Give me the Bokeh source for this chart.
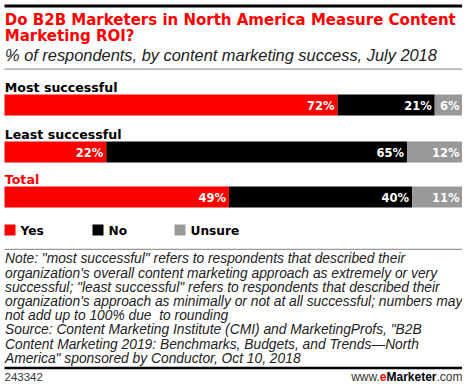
from bokeh.plotting import figure
from bokeh.models import Range1d, ColumnDataSource
from bokeh.core.properties import value
from bokeh.embed import file_html
from bokeh.resources import INLINE

# ---------------- data ----------------
categories = ["Most successful", "Least successful", "Total"]
yes = [72, 22, 49]
no = [21, 65, 40]
unsure = [6, 12, 11]
series_names = ["Yes", "No", "Unsure"]
series_colors = ["#ff0000", "#000000", "#999999"]
category_colors = ["#000000", "#000000", "#ff0000"]

title_lines = ["Do B2B Marketers in North America Measure Content",
               "Marketing ROI?"]
subtitle = "% of respondents, by content marketing success, July 2018"
note_lines = [
    'Note: "most successful" refers to respondents that described their',
    "organization's overall content marketing approach as extremely or very",
    'successful; "least successful" refers to respondents that described their',
    "organization's approach as minimally or not at all successful; numbers may",
    "not add up to 100% due\u00a0 to rounding",
    'Source: Content Marketing Institute (CMI) and MarketingProfs, "B2B',
    "Content Marketing 2019: Benchmarks, Budgets, and Trends\u2014North",
    'America" sponsored by Conductor, Oct 10, 2018',
]
chart_id = "243342"

# ---------------- layout (pixel units of the 470x391 picture) ----------------
W, H = 462, 383
VX0, VY0 = 2, 2          # picture coordinate shown at the canvas' top-left
X0, X1 = 6, 464          # left/right of content
row_label_base = [93.0, 140.4, 185.0]
bar_top = [96, 143, 188]
bar_h = 21
legend_x = [6, 94, 176]
legend_top, legend_size = 226, 11
note_base0, note_step = 265.2, 14.2
MID = 0.346              # em offset from baseline to the middle of the em box

BOLD = "DejaVu Sans"
REG = "Liberation Sans"

p = figure(width=W, height=H, output_backend="svg", toolbar_location=None,
           x_range=Range1d(VX0, VX0 + W), y_range=Range1d(VY0 + H, VY0),
           min_border=0, outline_line_color=None, background_fill_color="white",
           border_fill_color="white")
p.xaxis.visible = False
p.yaxis.visible = False
p.grid.visible = False

# percent scale for bars: 0 at X0, 100 at X1
pct_per_px = 100.0 / (X1 - X0)
p.extra_x_ranges = {"pct": Range1d((VX0 - X0) * pct_per_px, (VX0 + W - X0) * pct_per_px)}


def rule(y_top, y_bot, color):
    p.quad(left=[X0], right=[X1], top=[y_top], bottom=[y_bot], fill_color=color,
           line_color=None)


def texts(xs, bases, labels, size, font=REG, style="normal", color="#222222", align="left"):
    p.text(x=xs, y=[b - MID * size for b in bases], text=labels, text_font=value(font),
           text_font_style=style, text_font_size=f"{size}px", text_color=color,
           text_align=align, text_baseline="middle")


# rules
rule(6.0, 9.0, "#000000")
rule(70.0, 71.2, "#999999")
rule(250.2, 251.4, "#999999")
rule(368.3, 370.8, "#000000")

# title & subtitle
texts([X0 + 0.3] * 2, [26.2, 42.8], title_lines, 15.0, BOLD, "bold", "#ff0000")
texts([X0 + 0.5], [62.6], [subtitle], 16.4, REG, "italic", "#222222")

# bars
series = [yes, no, unsure]
totals = [sum(v) for v in zip(*series)]
lefts = [0.0] * len(categories)
for name, vals, col in zip(series_names, series, series_colors):
    left_pct = [l for l in lefts]
    right_pct = [l + v / t * 100.0 for l, v, t in zip(lefts, vals, totals)]
    src = ColumnDataSource(dict(
        left=left_pct, right=right_pct,
        top=bar_top, bottom=[b + bar_h for b in bar_top],
        mid=[b + bar_h / 2 + 0.5 for b in bar_top],
        label=[f"{v}%" for v in vals]))
    p.quad(left="left", right="right", top="top", bottom="bottom", source=src,
           fill_color=col, line_color=None, x_range_name="pct")
    p.text(x="right", y="mid", text="label", source=src, x_range_name="pct",
           x_offset=-3, text_align="right", text_baseline="middle",
           text_color="white", text_font=value(BOLD), text_font_style="bold",
           text_font_size="11.5px")
    lefts = right_pct

# category labels
p.text(x=[X0 + 0.3] * 3, y=[b - MID * 12.6 for b in row_label_base], text=categories,
       text_color=category_colors, text_font=value(BOLD), text_font_style="bold",
       text_font_size="12.6px", text_baseline="middle")

# legend
p.quad(left=legend_x, right=[x + legend_size for x in legend_x],
       top=[legend_top] * 3, bottom=[legend_top + legend_size] * 3,
       fill_color=series_colors, line_color=None)
texts([x + legend_size + 5 for x in legend_x], [236.5] * 3, series_names, 12.2,
      BOLD, "bold", "#000000")

# notes
texts([X0 + 0.5] * len(note_lines),
      [note_base0 + i * note_step for i in range(len(note_lines))],
      note_lines, 13.8, REG, "italic", "#222222")

# footer
texts([X0], [382.5], [chart_id], 11.5, REG, "normal", "#333333")
fs = 12
w_com = 2.167 * fs
w_marketer = 4.168 * fs
w_e = 0.556 * fs
texts([X1], [382.5], [".com"], fs, REG, "normal", "#333333", "right")
texts([X1 - w_com], [382.5], ["Marketer"], fs, REG, "bold", "#000000", "right")
texts([X1 - w_com - w_marketer], [382.5], ["e"], fs, REG, "bold", "#ff0000", "right")
texts([X1 - w_com - w_marketer - w_e], [382.5], ["www."], fs, REG, "normal", "#333333", "right")

open("out.html", "w").write(file_html(p, INLINE))
